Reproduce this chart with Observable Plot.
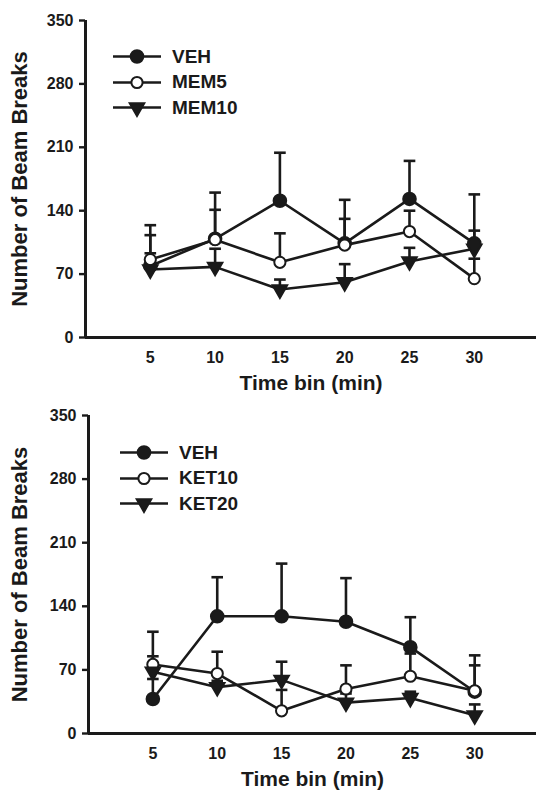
<!DOCTYPE html>
<html><head><meta charset="utf-8">
<script src="https://cdn.jsdelivr.net/npm/d3@7"></script>
<script src="https://cdn.jsdelivr.net/npm/@observablehq/plot@0.6"></script>
<style>
body{margin:0;background:#fff;font-family:"Liberation Sans",Arial,sans-serif;}
.panel{position:relative;width:536px;height:400px;overflow:hidden;}
.legend{position:absolute;font-weight:bold;font-size:19px;color:#1a1a1a;}
.row{display:flex;align-items:center;height:25.5px;}
.row svg{display:block;}
</style></head><body>
<div id="top" class="panel"></div>
<div id="bottom" class="panel"></div>
<script>
// ---- data ----
const timeBins = [5, 10, 15, 20, 25, 30];
const yTicks = [0, 70, 140, 210, 280, 350];
const xTitle = "Time bin (min)";
const yTitle = "Number of Beam Breaks";

// top panel (memantine)
const topSeries = ["VEH", "MEM5", "MEM10"];
const topVEH      = [79, 109, 151, 104, 153, 104];
const topVEHerr   = [124, 160, 204, 152, 195, 158];
const topMEM5     = [86, 108, 83, 102, 117, 65];
const topMEM5err  = [113, 141, 115, 131, 140, 87];
const topMEM10    = [75, 78, 53, 61, 84, 98];
const topMEM10err = [93, 98, 64, 81, 99, 118];

// bottom panel (ketamine)
const botSeries = ["VEH", "KET10", "KET20"];
const botVEH      = [38, 129, 129, 123, 95, 46];
const botVEHerr   = [112, 172, 187, 171, 128, 86];
const botKET10    = [76, 66, 25, 49, 63, 47];
const botKET10err = [85, 90, 48, 75, 88, 75];
const botKET20    = [68, 51, 59, 34, 39, 20];
const botKET20err = [60, 58, 79, 44, 46, 32];

// ---- styles ----
const ink = "#1a1a1a";
const styles = [
  {symbol: "circle", fill: ink, r: 6.3, rotate: 0},
  {symbol: "circle", fill: "white", r: 5.6, rotate: 0},
  {symbol: "triangle", fill: ink, r: 5.4, rotate: 180}
];

function panel(el, names, means, errs, o) {
  const rows = [];
  names.forEach((s, i) => timeBins.forEach((x, j) =>
    rows.push({series: s, idx: i, x, y: means[i][j], e: errs[i][j]})));
  const marks = [
    Plot.axisY({ticks: yTicks, tickSize: 6, tickPadding: 6, fontSize: 16, fontWeight: "bold", strokeWidth: 2.4, label: null}),
    Plot.axisX({ticks: timeBins, tickSize: 0, tickPadding: 14, fontSize: 16, fontWeight: "bold", label: null}),
    Plot.ruleX(rows, {x: "x", y1: "y", y2: "e", stroke: ink, strokeWidth: 2.6}),
    Plot.link(rows, {x1: d => d.x - 0.45, x2: d => d.x + 0.45, y1: "e", y2: "e", stroke: ink, strokeWidth: 2.6}),
    Plot.line(rows, {x: "x", y: "y", z: "series", stroke: ink, strokeWidth: 2.6}),
  ];
  names.forEach((s, i) => {
    const st = styles[i];
    marks.push(Plot.dot(rows.filter(d => d.idx === i), {
      x: "x", y: "y", symbol: st.symbol, r: st.r, fill: st.fill,
      stroke: ink, strokeWidth: 2, rotate: st.rotate
    }));
  });
  marks.push(
    Plot.ruleY([0], {stroke: ink, strokeWidth: 3}),
    Plot.ruleX([0], {y1: 0, y2: 350, stroke: ink, strokeWidth: 3}),
    Plot.text([xTitle], {frameAnchor: "bottom", dy: 52, fontSize: 21, fontWeight: "bold", fill: ink}),
    Plot.text([yTitle], {frameAnchor: "left", textAnchor: "middle", rotate: -90, dx: -(o.ml - 19), fontSize: 22, fontWeight: "bold", fill: ink})
  );
  const chart = Plot.plot({
    width: 536, height: 400,
    marginLeft: o.ml, marginRight: 0, marginTop: o.mt, marginBottom: o.mb,
    x: {domain: [0, 34.8]},
    y: {domain: [0, 350]},
    style: {fontFamily: "Liberation Sans, Arial, sans-serif", color: ink, background: "white", overflow: "visible"},
    marks
  });
  el.appendChild(chart);

  // legend
  const leg = d3.select(el).append("div").attr("class", "legend")
    .style("left", o.lx + "px").style("top", o.ly + "px");
  names.forEach((s, i) => {
    const st = styles[i];
    const row = leg.append("div").attr("class", "row");
    const svg = row.append("svg").attr("width", 48).attr("height", 25);
    svg.append("line").attr("x1", 0).attr("x2", 48).attr("y1", 12.5).attr("y2", 12.5)
      .attr("stroke", ink).attr("stroke-width", 2.6);
    const type = st.symbol === "circle" ? d3.symbolCircle : d3.symbolTriangle;
    svg.append("path").attr("d", d3.symbol(type, Math.PI * st.r * st.r)())
      .attr("transform", `translate(24,12.5) rotate(${st.rotate})`)
      .attr("fill", st.fill).attr("stroke", ink).attr("stroke-width", 2);
    row.append("span").style("margin-left", "11px").text(s);
  });
}

panel(document.getElementById("top"), topSeries,
  [topVEH, topMEM5, topMEM10], [topVEHerr, topMEM5err, topMEM10err],
  {ml: 85, mt: 20, mb: 63, lx: 113, ly: 44});
panel(document.getElementById("bottom"), botSeries,
  [botVEH, botKET10, botKET20], [botVEHerr, botKET10err, botKET20err],
  {ml: 88, mt: 15, mb: 67, lx: 120, ly: 40});
</script>
</body></html>
